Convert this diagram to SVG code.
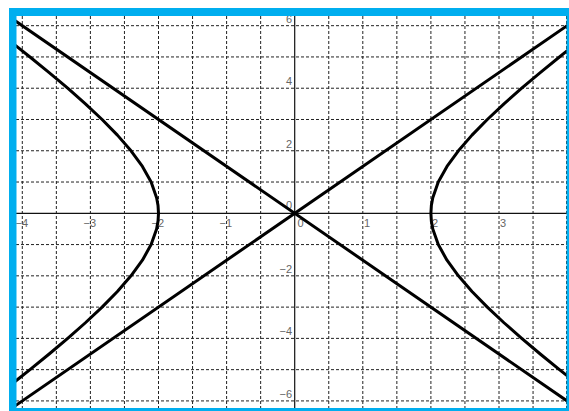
<svg xmlns="http://www.w3.org/2000/svg" width="569" height="411" viewBox="0 0 569 411">
<style>
.grid{stroke:#222;stroke-width:1;stroke-dasharray:3 2;fill:none}
.axis{stroke:#111;stroke-width:1.2;fill:none}
.curve{stroke:#000;stroke-width:3;fill:none;stroke-linejoin:round;stroke-linecap:round}
.lbl{font-family:"Liberation Sans",Arial,sans-serif;font-size:11px;fill:#666}
.frame{fill:#00aeef}
</style>
<defs>
<clipPath id="plot"><rect x="16" y="16" width="551" height="392"/></clipPath>
</defs>
<rect width="569" height="411" fill="#fff"/>
<g id="grid" clip-path="url(#plot)">
<path class="grid" d="M22.3 16V408M56.35 16V408M90.4 16V408M124.45 16V408M158.5 16V408M192.55 16V408M226.6 16V408M260.65 16V408M328.75 16V408M362.8 16V408M396.85 16V408M430.9 16V408M464.95 16V408M499 16V408M533.05 16V408M566.5 16V408"/>
<path class="grid" d="M16 25.68H569M16 56.95H569M16 88.22H569M16 119.49H569M16 150.76H569M16 182.03H569M16 244.57H569M16 275.84H569M16 307.11H569M16 338.38H569M16 369.65H569M16 400.92H569"/>
</g>
<g id="axes">
<line class="axis" x1="16" y1="213.3" x2="569" y2="213.3"/>
<line class="axis" x1="294.7" y1="16" x2="294.7" y2="408"/>
</g>
<g id="labels">
<text class="lbl" x="15.5" y="227">−4</text>
<text class="lbl" x="83.5" y="227">−3</text>
<text class="lbl" x="151.5" y="227">−2</text>
<text class="lbl" x="219.5" y="227">−1</text>
<text class="lbl" x="297.5" y="227">0</text>
<text class="lbl" x="364" y="227">1</text>
<text class="lbl" x="432" y="227">2</text>
<text class="lbl" x="500" y="227">3</text>
<text class="lbl" x="292" y="22.7" text-anchor="end">6</text>
<text class="lbl" x="292" y="85.2" text-anchor="end">4</text>
<text class="lbl" x="292" y="147.8" text-anchor="end">2</text>
<text class="lbl" x="292" y="208.5" text-anchor="end">0</text>
<text class="lbl" x="292" y="272.8" text-anchor="end">−2</text>
<text class="lbl" x="292" y="335.4" text-anchor="end">−4</text>
<text class="lbl" x="292" y="397.9" text-anchor="end">−6</text>
</g>
<g id="connectors" clip-path="url(#plot)">
<line class="curve" x1="-11.75" y1="2.23" x2="601.15" y2="424.37"/>
<line class="curve" x1="-11.75" y1="424.37" x2="601.15" y2="2.23"/>
<polyline class="curve" points="599.25,25.68 579.13,41.32 559.42,56.95 540.24,72.59 521.70,88.22 503.98,103.86 487.31,119.49 471.99,135.13 458.39,150.76 446.98,166.40 438.27,182.03 432.78,197.67 431.37,205.48 430.9,213.3 431.37,221.12 432.78,228.94 438.27,244.57 446.98,260.21 458.39,275.84 471.99,291.48 487.31,307.11 503.98,322.75 521.70,338.38 540.24,354.02 559.42,369.65 579.13,385.29 599.25,400.92"/>
<polyline class="curve" points="-9.85,25.68 10.27,41.32 29.98,56.95 49.16,72.59 67.70,88.22 85.42,103.86 102.09,119.49 117.41,135.13 131.01,150.76 142.42,166.40 151.13,182.03 156.62,197.67 158.03,205.48 158.5,213.3 158.03,221.12 156.62,228.94 151.13,244.57 142.42,260.21 131.01,275.84 117.41,291.48 102.09,307.11 85.42,322.75 67.70,338.38 49.16,354.02 29.98,369.65 10.27,385.29 -9.85,400.92"/>
</g>
<g id="frame">
<rect class="frame" x="9" y="8" width="560" height="8"/>
<rect class="frame" x="9" y="8" width="7.5" height="403"/>
<rect class="frame" x="9" y="408" width="560" height="3"/>
<rect class="frame" x="566.5" y="8" width="2.5" height="403"/>
</g>
</svg>
